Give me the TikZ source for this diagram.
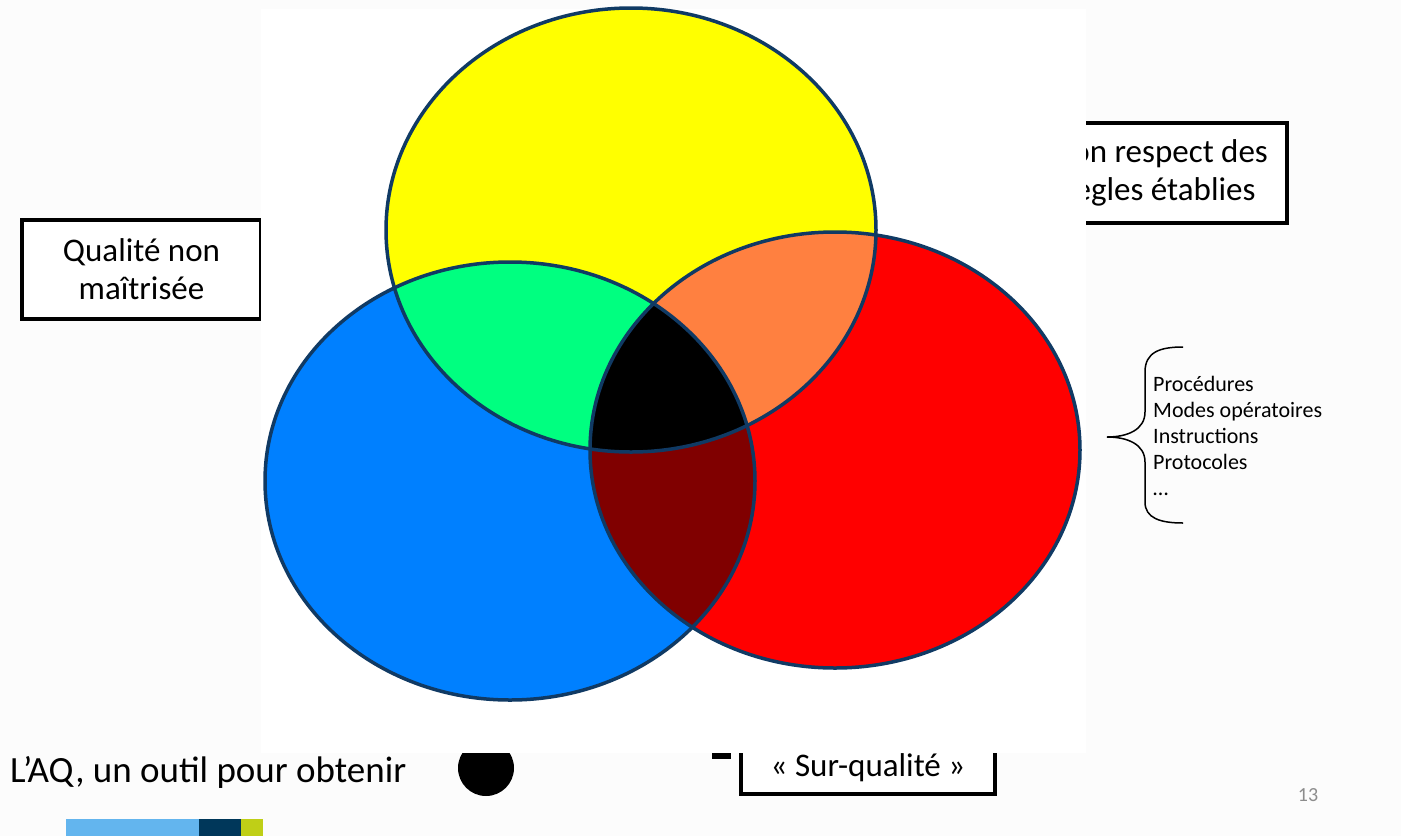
\documentclass[tikz,border=0pt]{standalone}
\usepackage{fontspec}
\setmainfont{Carlito}
\definecolor{slidebg}{HTML}{FCFCFC}
\definecolor{vennline}{RGB}{16,58,100}
\definecolor{vyellow}{HTML}{FFFF00}
\definecolor{vblue}{HTML}{0080FF}
\definecolor{vred}{HTML}{FF0000}
\definecolor{vgreen}{HTML}{00FF80}
\definecolor{vorange}{HTML}{FF8040}
\definecolor{vdarkred}{HTML}{800000}
\definecolor{barblue}{HTML}{63B5EE}
\definecolor{barnavy}{HTML}{00375A}
\definecolor{barlime}{HTML}{BFCF17}
\definecolor{pagegray}{HTML}{8C8C8C}

\begin{document}
\begin{tikzpicture}[
  x=1pt, y=-1pt,
  box/.style={draw=black, line width=3.5pt, fill=white, align=center,
              inner sep=0pt, font=\fontsize{33}{38}\selectfont},
  venn/.style={draw=vennline, line width=3.5pt},
  lst/.style={anchor=base west, inner sep=0pt, font=\fontsize{22}{26}\selectfont}
]
\useasboundingbox (0,0) rectangle (1401,836);
\fill[slidebg] (0,0) rectangle (1401,836);

% boxes behind the picture
\node[box, minimum width=239pt, minimum height=99pt] (nonmaitrise) at (141.5,269.5)
  {Qualité non\\maîtrisée};
\node[box, minimum width=255pt, minimum height=100pt] (nonrespect) at (1159.5,173)
  {Non respect des\\règles établies};
\node[box, minimum width=254pt, minimum height=52pt] (surqualite) at (868,768)
  {«~Sur-qualité~»};
\fill[black] (712,753) rectangle (731,759);
\fill[black] (486,768) circle [radius=28pt];

% picture
\fill[white] (261,9) rectangle (1086,753);

\coordinate (yc) at (631,230);
\coordinate (bc) at (510,481);
\coordinate (rc) at (835,450);

\fill[vyellow] (yc) ellipse [x radius=245pt, y radius=222pt];
\fill[vblue] (bc) ellipse [x radius=245pt, y radius=219pt];
\fill[vred] (rc) ellipse [x radius=245pt, y radius=218pt];
\begin{scope}
  \clip (yc) ellipse [x radius=245pt, y radius=222pt];
  \fill[vgreen] (bc) ellipse [x radius=245pt, y radius=219pt];
  \fill[vorange] (rc) ellipse [x radius=245pt, y radius=218pt];
\end{scope}
\begin{scope}
  \clip (bc) ellipse [x radius=245pt, y radius=219pt];
  \fill[vdarkred] (rc) ellipse [x radius=245pt, y radius=218pt];
  \clip (yc) ellipse [x radius=245pt, y radius=222pt];
  \fill[black] (rc) ellipse [x radius=245pt, y radius=218pt];
\end{scope}
\draw[venn] (yc) ellipse [x radius=245pt, y radius=222pt];
\draw[venn] (bc) ellipse [x radius=245pt, y radius=219pt];
\draw[venn] (rc) ellipse [x radius=245pt, y radius=218pt];

% brace and list
\draw[line width=1.5pt] (1183,347) .. controls (1160,347) and (1145,352) .. (1145,372)
  -- (1145,412) .. controls (1145,430) and (1127,437) .. (1107,437)
  .. controls (1127,437) and (1145,444) .. (1145,462)
  -- (1145,502) .. controls (1145,518) and (1160,523) .. (1183,523);
\node[lst] (proc) at (1153,391) {Procédures};
\node[lst] (modes) at (1153,417) {Modes opératoires};
\node[lst] (instr) at (1153,443) {Instructions};
\node[lst] (proto) at (1153,469) {Protocoles};
\node[lst] (etc) at (1153,495) {…};

% bottom of slide
\node[anchor=base west, inner sep=0pt, font=\fontsize{37}{44}\selectfont] (aq) at (10,782)
  {L’AQ, un outil pour obtenir};
\node[anchor=base, inner sep=0pt, text=pagegray, font=\fontsize{20}{24}\selectfont] (page) at (1308,801) {13};
\fill[barblue] (66,819) rectangle (199,836);
\fill[barnavy] (199,819) rectangle (241,836);
\fill[barlime] (241,819) rectangle (263,836);

\end{tikzpicture}
\end{document}
